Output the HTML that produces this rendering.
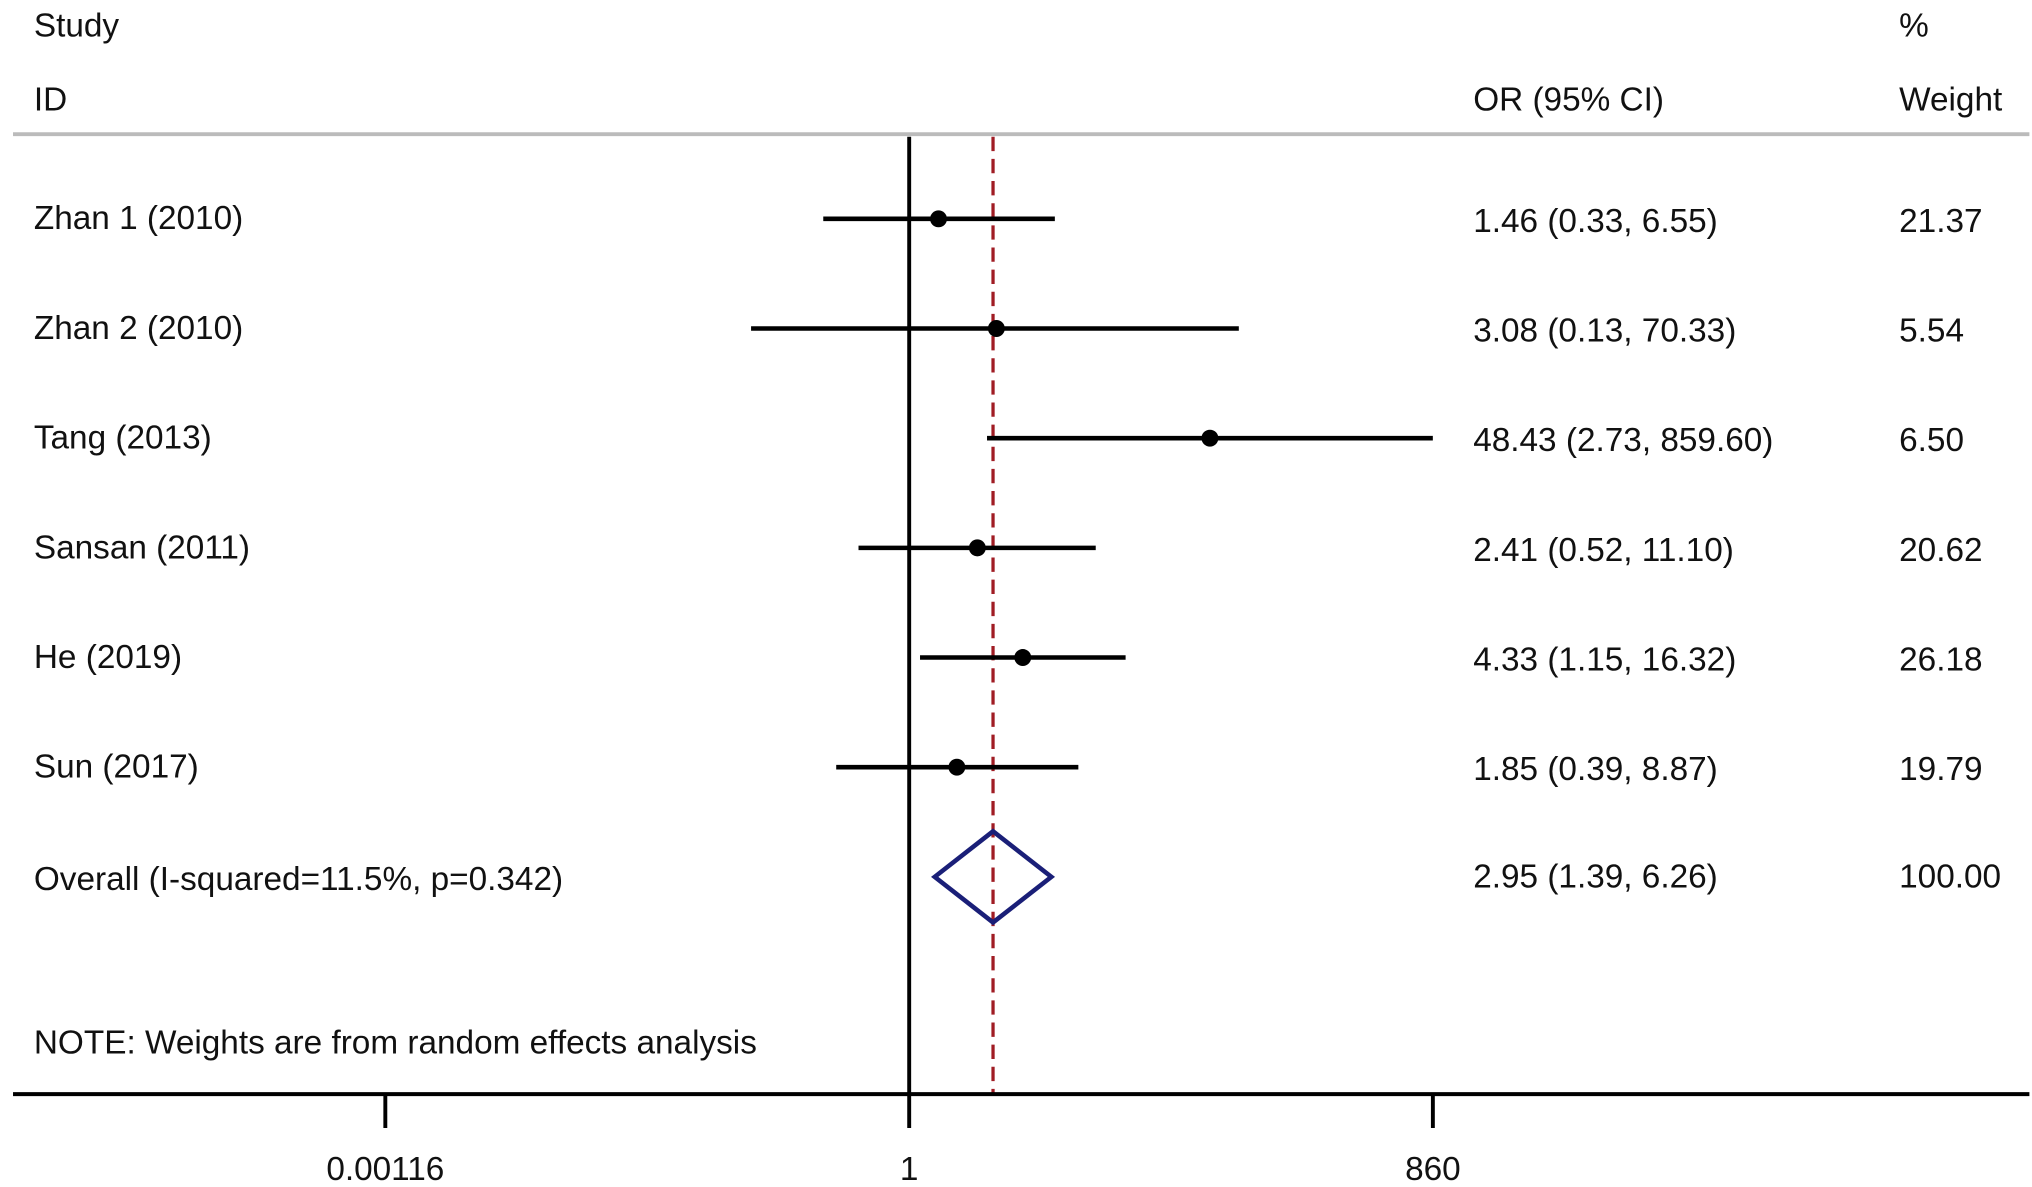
<!DOCTYPE html>
<html><head><meta charset="utf-8"><style>
html,body{margin:0;padding:0;background:#fff;}
svg{display:block;}
text{font-family:"Liberation Sans",sans-serif;font-size:25.6px;fill:#111;}
</style></head><body>
<svg id="chart" width="2032" height="1187" viewBox="0 0 1560 911.3" preserveAspectRatio="none" xmlns="http://www.w3.org/2000/svg">
<text x="26" y="28">Study</text>
<text x="26" y="85">ID</text>
<text x="1131" y="85">OR (95% CI)</text>
<text x="1458" y="28">%</text>
<text x="1458" y="85">Weight</text>
<line x1="10" y1="103" x2="1558" y2="103" stroke="#bbb" stroke-width="3"/>
<g id="marks"></g>
<text x="26" y="809">NOTE: Weights are from random effects analysis</text>
</svg>
<script>
const studies = ["Zhan 1 (2010)","Zhan 2 (2010)","Tang (2013)","Sansan (2011)","He (2019)","Sun (2017)"];
const orVals = [1.46,3.08,48.43,2.41,4.33,1.85];
const lower = [0.33,0.13,2.73,0.52,1.15,0.39];
const upper = [6.55,70.33,859.60,11.10,16.32,8.87];
const weights = ["21.37","5.54","6.50","20.62","26.18","19.79"];
const overallLabel = "Overall (I-squared=11.5%, p=0.342)";
const overall = [2.95,1.39,6.26];
const overallWeight = "100.00";
const tickVals = [0.00116,1,860];
const tickLabels = ["0.00116","1","860"];

const NS="http://www.w3.org/2000/svg";
const g=document.getElementById('marks');
const xs=v=>698+59.5*Math.log(v);
const rowY=i=>168+84.2*i;
function mk(tag,attrs,parent){const e=document.createElementNS(NS,tag);for(const k in attrs)e.setAttribute(k,attrs[k]);(parent||g).appendChild(e);return e;}
const fmt=v=>v.toFixed(2);

let el=mk('line',{x1:xs(1),y1:105,x2:xs(1),y2:840,stroke:'#000','stroke-width':3});


el=mk('line',{x1:xs(overall[0]),y1:105,x2:xs(overall[0]),y2:840,stroke:'#a01c24','stroke-width':2.5,'stroke-dasharray':'11,6'});



studies.forEach((s,i)=>{
  const y=rowY(i);
  let t=mk('text',{x:26,y:y+8});t.textContent=s;
  
  
  let l=mk('line',{x1:xs(lower[i]),y1:y,x2:xs(upper[i]),y2:y,stroke:'#000','stroke-width':3.5});
  
  
  let c=mk('circle',{cx:xs(orVals[i]),cy:y,r:6.5,fill:'#000'});
  
  
  let o=mk('text',{x:1131,y:y+10});o.textContent=fmt(orVals[i])+' ('+fmt(lower[i])+', '+fmt(upper[i])+')';
  
  
  let w=mk('text',{x:1458,y:y+10});w.textContent=weights[i];
  
  
});
const oy=rowY(6);
let t=mk('text',{x:26,y:oy+10});t.textContent=overallLabel;


let d=mk('polygon',{points:`${xs(overall[1])},${oy} ${xs(overall[0])},${oy-35} ${xs(overall[2])},${oy} ${xs(overall[0])},${oy+35}`,fill:'none',stroke:'#1a1f78','stroke-width':3.5});


t=mk('text',{x:1131,y:oy+8});t.textContent=fmt(overall[0])+' ('+fmt(overall[1])+', '+fmt(overall[2])+')';


t=mk('text',{x:1458,y:oy+8});t.textContent=overallWeight;



el=mk('line',{x1:10,y1:840,x2:1558,y2:840,stroke:'#000','stroke-width':3});


tickVals.forEach((v,i)=>{
  let tk=mk('line',{x1:xs(v),y1:840,x2:xs(v),y2:866,stroke:'#000','stroke-width':3});
  
  
  let lb=mk('text',{x:xs(v),y:906,'text-anchor':'middle'});lb.textContent=tickLabels[i];
  
  
});
</script>
</body></html>
